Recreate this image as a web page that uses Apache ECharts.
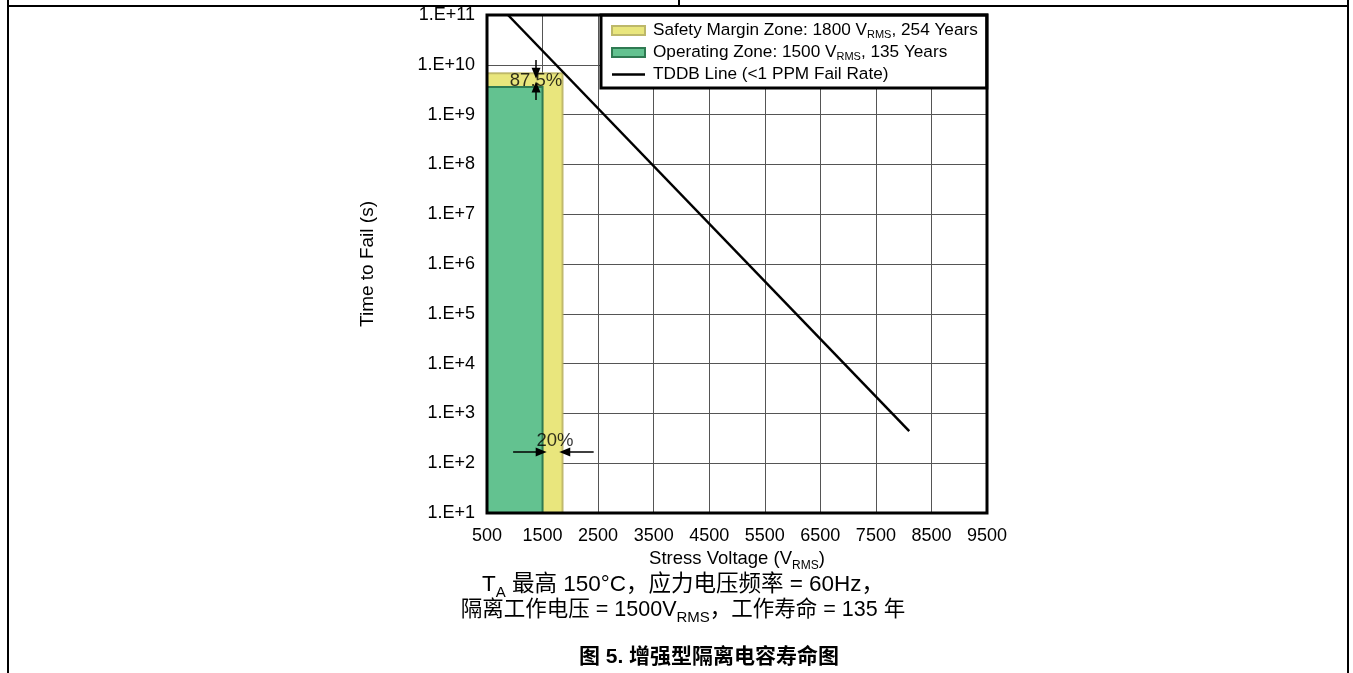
<!DOCTYPE html>
<html><head><meta charset="utf-8">
<script src="https://cdn.jsdelivr.net/npm/echarts@6/dist/echarts.min.js"></script>
<style>html,body{margin:0;padding:0;background:#fff}#c{width:1353px;height:673px}</style>
</head><body><div id="c"></div>
<script>
// ---- data ----
const xRange = [500, 9500];
const xStep = 1000;
const yRange = [10, 1e11];
const zoneNames = ['Safety Margin Zone: 1800 VRMS, 254 Years', 'Operating Zone: 1500 VRMS, 135 Years'];
const lineName = 'TDDB Line (<1 PPM Fail Rate)';
// [x start, x end, time to fail at top]
const safetyZone = [500, 1860, 6.8e9];
const operatingZone = [500, 1500, 3.6e9];
const tddbLine = [[878, 1e11], [8100, 443]];
const marginArrows = [
  [[1383, 1.25e10], [1383, 6.8e9]],
  [[1383, 1.96e9], [1383, 3.6e9]],
  [[970, 168], [1475, 168]],
  [[2420, 168], [1900, 168]]
];
const percentLabels = [[1383, 4.7e9, '87.5%'], [1725, 280, '20%']];

const FONT = '"Liberation Sans", Arial, sans-serif';
const CJK = '"Liberation Sans", "Noto Sans CJK SC", sans-serif';

const legendRich = {
  n: {fontFamily: FONT, fontSize: 17.2, color: '#000', lineHeight: 16},
  s: {fontFamily: FONT, fontSize: 11, color: '#000', lineHeight: 16, verticalAlign: 'bottom', padding: [0, 0, -2, 0]}
};
const legendText = {};
legendText[zoneNames[0]] = '{n|Safety Margin Zone: 1800 V}{s|RMS}{n|, 254 Years}';
legendText[zoneNames[1]] = '{n|Operating Zone: 1500 V}{s|RMS}{n|, 135 Years}';
legendText[lineName] = '{n|TDDB Line (<1 PPM Fail Rate)}';

function zoneRenderer(fill, stroke) {
  return function (params, api) {
    const base = api.coord([api.value(0), yRange[0]]);
    const top = api.coord([api.value(1), api.value(2)]);
    return {
      type: 'rect',
      shape: {x: base[0], y: top[1], width: top[0] - base[0], height: base[1] - top[1]},
      style: {fill: fill, stroke: stroke, lineWidth: 2}
    };
  };
}

const chart = echarts.init(document.getElementById('c'), null, {renderer: 'canvas'});
chart.setOption({
  backgroundColor: '#fff',
  animation: false,
  grid: {left: 487, right: 366, top: 15, bottom: 160, show: true, borderColor: '#000', borderWidth: 3, backgroundColor: 'transparent', z: 10},
  legend: {
    orient: 'vertical', left: 601, top: 15,
    backgroundColor: '#fff', borderColor: '#000', borderWidth: 3,
    padding: [7, 9, 5, 10], itemGap: 3.5, itemWidth: 33, itemHeight: 9,
    formatter: function (n) { return legendText[n]; },
    textStyle: {rich: legendRich, padding: [0, 0, 0, 3]},
    data: [
      {name: zoneNames[0], icon: 'rect', itemStyle: {color: '#e9e67d', borderColor: '#bdb86a', borderWidth: 2}},
      {name: zoneNames[1], icon: 'rect', itemStyle: {color: '#63c290', borderColor: '#2f7a52', borderWidth: 2}},
      {name: lineName, icon: 'path://M0,0 H33 V2.5 H0 Z', itemStyle: {color: '#000', borderWidth: 0}}
    ]
  },
  xAxis: {
    type: 'value', min: xRange[0], max: xRange[1], interval: xStep,
    axisLine: {show: false}, axisTick: {show: false},
    splitLine: {show: true, lineStyle: {color: '#555', width: 1}},
    axisLabel: {fontFamily: FONT, fontSize: 18, color: '#000', margin: 14, formatter: function (v) { return String(v); }},
    name: '{n|Stress Voltage (V}{s|RMS}{n|)}', nameLocation: 'middle', nameGap: 34,
    nameTextStyle: {rich: {
      n: {fontFamily: FONT, fontSize: 18.5, color: '#000', lineHeight: 20},
      s: {fontFamily: FONT, fontSize: 12, color: '#000', lineHeight: 20, verticalAlign: 'bottom', padding: [0, 0, -2, 0]}
    }}
  },
  yAxis: {
    type: 'log', logBase: 10, min: yRange[0], max: yRange[1], interval: 1, splitNumber: 10,
    axisLine: {show: false}, axisTick: {show: false},
    splitLine: {show: true, lineStyle: {color: '#555', width: 1}},
    axisLabel: {fontFamily: FONT, fontSize: 18, color: '#000', margin: 12,
      formatter: function (v) { return '1.E+' + Math.round(Math.log10(v)); }},
    name: 'Time to Fail (s)', nameLocation: 'middle', nameGap: 110,
    nameTextStyle: {fontFamily: FONT, fontSize: 19, color: '#000'}
  },
  series: [
    {name: zoneNames[0], type: 'custom', z: 1, itemStyle: {color: '#e9e67d'},
      renderItem: zoneRenderer('#e9e67d', 'rgba(180,172,90,0.8)'), data: [safetyZone], silent: true},
    {name: zoneNames[1], type: 'custom', z: 1, itemStyle: {color: '#63c290'},
      renderItem: zoneRenderer('#63c290', '#2f7a52'), data: [operatingZone], silent: true},
    {name: lineName, type: 'line', data: tddbLine, showSymbol: false, symbol: 'none', z: 3,
      lineStyle: {color: '#000', width: 2.5}, itemStyle: {color: '#000'}},
    {name: 'arrows', type: 'line', data: [], z: 4,
      markLine: {silent: true, symbol: ['none', 'triangle'], symbolSize: [9, 11], label: {show: false},
        lineStyle: {color: '#000', width: 1.5, type: 'solid'},
        data: marginArrows.map(function (a) { return [{coord: a[0]}, {coord: a[1]}]; })}},
    {name: 'labels', type: 'scatter', symbolSize: 0, z: 5, silent: true,
      data: percentLabels.map(function (p) { return {value: [p[0], p[1]], name: p[2]}; }),
      label: {show: true, position: 'inside', formatter: '{b}', fontFamily: FONT, fontSize: 18.5, color: '#000'}}
  ],
  graphic: [
    {type: 'line', shape: {x1: 8, y1: 6, x2: 1348, y2: 6}, style: {stroke: '#000', lineWidth: 2}},
    {type: 'line', shape: {x1: 8, y1: 0, x2: 8, y2: 673}, style: {stroke: '#000', lineWidth: 2}},
    {type: 'line', shape: {x1: 1348, y1: 0, x2: 1348, y2: 673}, style: {stroke: '#000', lineWidth: 2}},
    {type: 'line', shape: {x1: 679, y1: 0, x2: 679, y2: 6}, style: {stroke: '#000', lineWidth: 2}},
    {type: 'text', x: 683, y: 585, style: {
      text: '{n|T}{s|A}{n| 最高 150°C，应力电压频率 = 60Hz，}', align: 'center', verticalAlign: 'middle',
      rich: {
        n: {fontFamily: CJK, fontSize: 22.5, fill: '#000', lineHeight: 24},
        s: {fontFamily: CJK, fontSize: 15, fill: '#000', lineHeight: 24, verticalAlign: 'bottom', padding: [0, 0, -3, 0]}
      }}},
    {type: 'text', x: 683, y: 610, style: {
      text: '{n|隔离工作电压 = 1500V}{s|RMS}{n|，工作寿命 = 135 年}', align: 'center', verticalAlign: 'middle',
      rich: {
        n: {fontFamily: CJK, fontSize: 21.5, fill: '#000', lineHeight: 24},
        s: {fontFamily: CJK, fontSize: 15, fill: '#000', lineHeight: 24, verticalAlign: 'bottom', padding: [0, 0, -3, 0]}
      }}},
    {type: 'text', x: 709, y: 657, style: {
      text: '图 5. 增强型隔离电容寿命图', align: 'center', verticalAlign: 'middle',
      fontFamily: CJK, fontSize: 21, fontWeight: 'bold', fill: '#000'}}
  ]
});
</script></body></html>
